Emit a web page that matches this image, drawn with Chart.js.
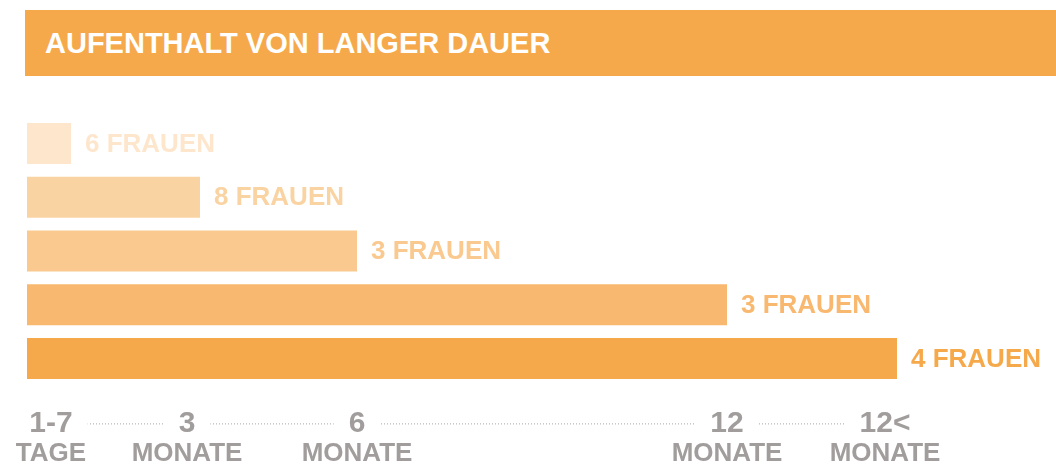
<!DOCTYPE html>
<html lang="de">
<head>
<meta charset="utf-8">
<title>Aufenthalt von langer Dauer</title>
<script src="https://cdn.jsdelivr.net/npm/chart.js@4/dist/chart.umd.min.js"></script>
<style>
  html, body { margin: 0; padding: 0; background: #fff; }
  #wrap { position: relative; width: 1056px; height: 467px; overflow: hidden; }
  #banner {
    position: absolute; left: 25px; top: 10px; width: 1031px; height: 66px;
    background: #f6a94a; color: #fff;
    font: bold 29px "Liberation Sans", Arial, sans-serif;
    line-height: 66px; padding-left: 20px; box-sizing: border-box;
    white-space: nowrap;
  }
  #chart { position: absolute; left: 0; top: 0; }
</style>
</head>
<body>
<div id="wrap">
  <canvas id="chart" width="1056" height="467"></canvas>
  <div id="banner">AUFENTHALT VON LANGER DAUER</div>
</div>
<script>
// ── data ──
const durations   = ['1-7 Tage', '3 Monate', '6 Monate', '12 Monate', '12< Monate'];
const barLengths  = [4.4, 17.3, 33.0, 70.0, 87.0];   // relative length, axis 0..100
const women       = [6, 8, 3, 3, 4];
const tickValues  = [2.4, 16.0, 33.0, 70.0, 85.8];
const tickNumbers = ['1-7', '3', '6', '12', '12<'];
const tickUnits   = ['TAGE', 'MONATE', 'MONATE', 'MONATE', 'MONATE'];
const barColors   = ['#fee6cd', '#fad3a2', '#fac98f', '#f8b86f', '#f6a94a'];

const FONT = '"Liberation Sans", Arial, sans-serif';
const GREY = '#a19d9c';

// ── value labels "n FRAUEN" right of each bar ──
const barLabels = {
    id: 'barLabels',
    afterDatasetsDraw(chart) {
        const ctx = chart.ctx;
        const meta = chart.getDatasetMeta(0);
        ctx.save();
        ctx.font = 'bold 26px ' + FONT;
        ctx.textBaseline = 'middle';
        ctx.textAlign = 'left';
        meta.data.forEach((bar, i) => {
            ctx.fillStyle = barColors[i];
            ctx.fillText(women[i] + ' FRAUEN', bar.x + 14, bar.y + 1);
        });
        ctx.restore();
    }
};

// ── dotted line through the number row of the axis ──
const dottedAxis = {
    id: 'dottedAxis',
    beforeDraw(chart) {
        const sc = chart.scales.x;
        const ctx = chart.ctx;
        const y = sc.top + sc.options.ticks.padding + 30 * 1.2 / 2;
        ctx.save();
        ctx.strokeStyle = '#a8a4a3';
        ctx.lineWidth = 1;
        ctx.setLineDash([1, 2]);
        ctx.beginPath();
        ctx.moveTo(sc.getPixelForValue(tickValues[0]), y + 0.5);
        ctx.lineTo(sc.getPixelForValue(tickValues[tickValues.length - 1]) + 32, y + 0.5);
        ctx.stroke();
        ctx.restore();
    }
};

const setTicks = scale => { scale.ticks = tickValues.map(v => ({ value: v })); };

new Chart(document.getElementById('chart'), {
    type: 'bar',
    data: {
        labels: durations,
        datasets: [{
            data: barLengths,
            backgroundColor: barColors,
            borderWidth: 0,
            barPercentage: 0.765,
            categoryPercentage: 1,
            xAxisID: 'x'
        }]
    },
    options: {
        indexAxis: 'y',
        responsive: false,
        animation: false,
        layout: { padding: { top: 116.6, left: 27, right: 29, bottom: 0 } },
        plugins: { legend: { display: false }, tooltip: { enabled: false } },
        scales: {
            y: { display: false },
            x: {
                type: 'linear', position: 'bottom', weight: 0,
                min: 0, max: 100,
                grid: { display: false, drawTicks: false },
                border: { display: false },
                afterBuildTicks: setTicks,
                afterFit: s => { s.height = 50; },
                ticks: {
                    autoSkip: false, maxRotation: 0, padding: 20,
                    color: GREY,
                    font: { family: FONT, size: 30, weight: 'bold', lineHeight: 1.2 },
                    showLabelBackdrop: true,
                    backdropColor: '#fff',
                    backdropPadding: { top: 0, bottom: 0, left: 15, right: 15 },
                    callback: (v, i) => tickNumbers[i]
                }
            },
            x2: {
                type: 'linear', position: 'bottom', weight: 1,
                min: 0, max: 100,
                grid: { display: false, drawTicks: false },
                border: { display: false },
                afterBuildTicks: setTicks,
                afterFit: s => { s.height = 31.6; },
                ticks: {
                    autoSkip: false, maxRotation: 0, padding: 3,
                    color: GREY,
                    font: { family: FONT, size: 26, weight: 'bold', lineHeight: 1.2 },
                    callback: (v, i) => tickUnits[i]
                }
            }
        }
    },
    plugins: [dottedAxis, barLabels]
});
</script>
</body>
</html>
